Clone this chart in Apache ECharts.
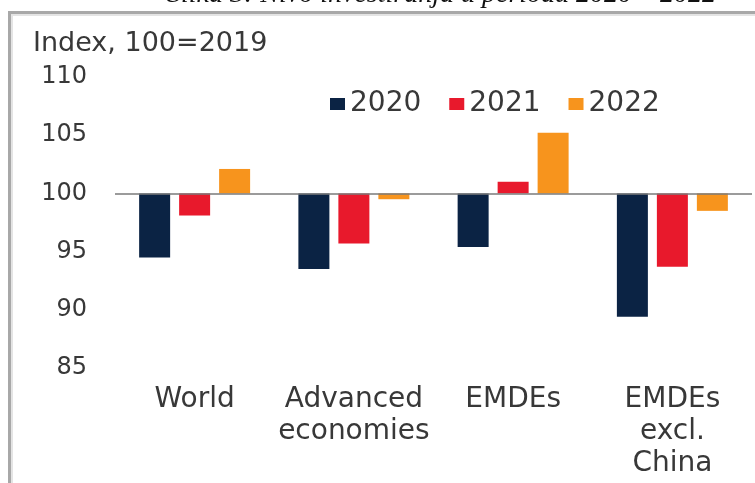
<!DOCTYPE html>
<html>
<head>
<meta charset="utf-8">
<script src="https://cdn.jsdelivr.net/npm/echarts@6/dist/echarts.min.js"></script>
<style>
html,body{margin:0;padding:0;background:#fff;}
#c{width:755px;height:483px;}
</style>
</head>
<body>
<div id="c"></div>
<script>
var categories = ['World', 'Advanced\neconomies', 'EMDEs', 'EMDEs\nexcl.\nChina'];
var seriesNames = ['2020', '2021', '2022'];
var v2020 = [94.5, 93.5, 95.4, 89.4];
var v2021 = [98.1, 95.7, 101.0, 93.7];
var v2022 = [102.1, 99.5, 105.2, 98.5];
var baseValue = 100;
var yTicks = [85, 90, 95, 100, 105, 110];
var unitLabel = 'Index, 100=2019';
var captionText = 'Slika 3: Nivo investiranja u periodu 2020 – 2022';
var colors = ['#0b2344', '#e8192c', '#f7941d'];

var font = 'DejaVu Sans';
function rel(arr) { return arr.map(function (v) { return +(v - baseValue).toFixed(3); }); }
var allSeries = [v2020, v2021, v2022];

var chart = echarts.init(document.getElementById('c'), null, {renderer: 'canvas'});
var series = allSeries.map(function (arr, i) {
  var s = {
    name: seriesNames[i],
    type: 'bar',
    data: rel(arr),
    barWidth: 31,
    barGap: '29%',
    itemStyle: {color: colors[i]},
    animation: false
  };
  if (i === 0) {
    s.markLine = {
      silent: true,
      symbol: ['none', 'none'],
      label: {show: false},
      lineStyle: {color: '#7a7a7a', width: 1.5, type: 'solid'},
      data: [{yAxis: 0}],
      animation: false
    };
  }
  return s;
});

chart.setOption({
  animation: false,
  backgroundColor: '#ffffff',
  color: colors,
  grid: {left: 115, right: 3, top: 77, bottom: 115, containLabel: false},
  legend: {
    data: seriesNames,
    left: 325,
    top: 85,
    icon: 'rect',
    itemWidth: 15,
    itemHeight: 12,
    itemGap: 28,
    textStyle: {fontFamily: font, fontSize: 28, color: '#383838'}
  },
  xAxis: {
    type: 'category',
    data: categories,
    axisLine: {show: false},
    axisTick: {show: false},
    splitLine: {show: false},
    axisLabel: {
      interval: 0,
      margin: 16,
      fontFamily: font,
      fontSize: 28,
      lineHeight: 32,
      color: '#383838',
      align: 'center'
    }
  },
  yAxis: {
    type: 'value',
    min: yTicks[0] - baseValue,
    max: yTicks[yTicks.length - 1] - baseValue,
    interval: yTicks[1] - yTicks[0],
    axisLine: {show: false},
    axisTick: {show: false},
    splitLine: {show: false},
    axisLabel: {
      margin: 28,
      fontFamily: font,
      fontSize: 24,
      color: '#383838',
      formatter: function (v) { return String(v + baseValue); }
    }
  },
  graphic: [
    {
      type: 'text', left: 167, top: -19,
      style: {text: captionText, font: 'italic 28px "Liberation Serif"', fill: '#111111', x: 0, y: 0}
    },
    {type: 'rect', shape: {x: 8, y: 11, width: 747, height: 3}, style: {fill: '#a8a8a8'}, silent: true},
    {type: 'rect', shape: {x: 8, y: 14, width: 747, height: 2}, style: {fill: '#e4e4e4'}, silent: true},
    {type: 'rect', shape: {x: 8, y: 11, width: 3, height: 472}, style: {fill: '#a8a8a8'}, silent: true},
    {type: 'rect', shape: {x: 11, y: 14, width: 2, height: 469}, style: {fill: '#e4e4e4'}, silent: true},
    {
      type: 'text', left: 33, top: 30,
      style: {text: unitLabel, font: '27px "DejaVu Sans"', fill: '#383838'}
    }
  ],
  series: series
});
</script>
</body>
</html>
